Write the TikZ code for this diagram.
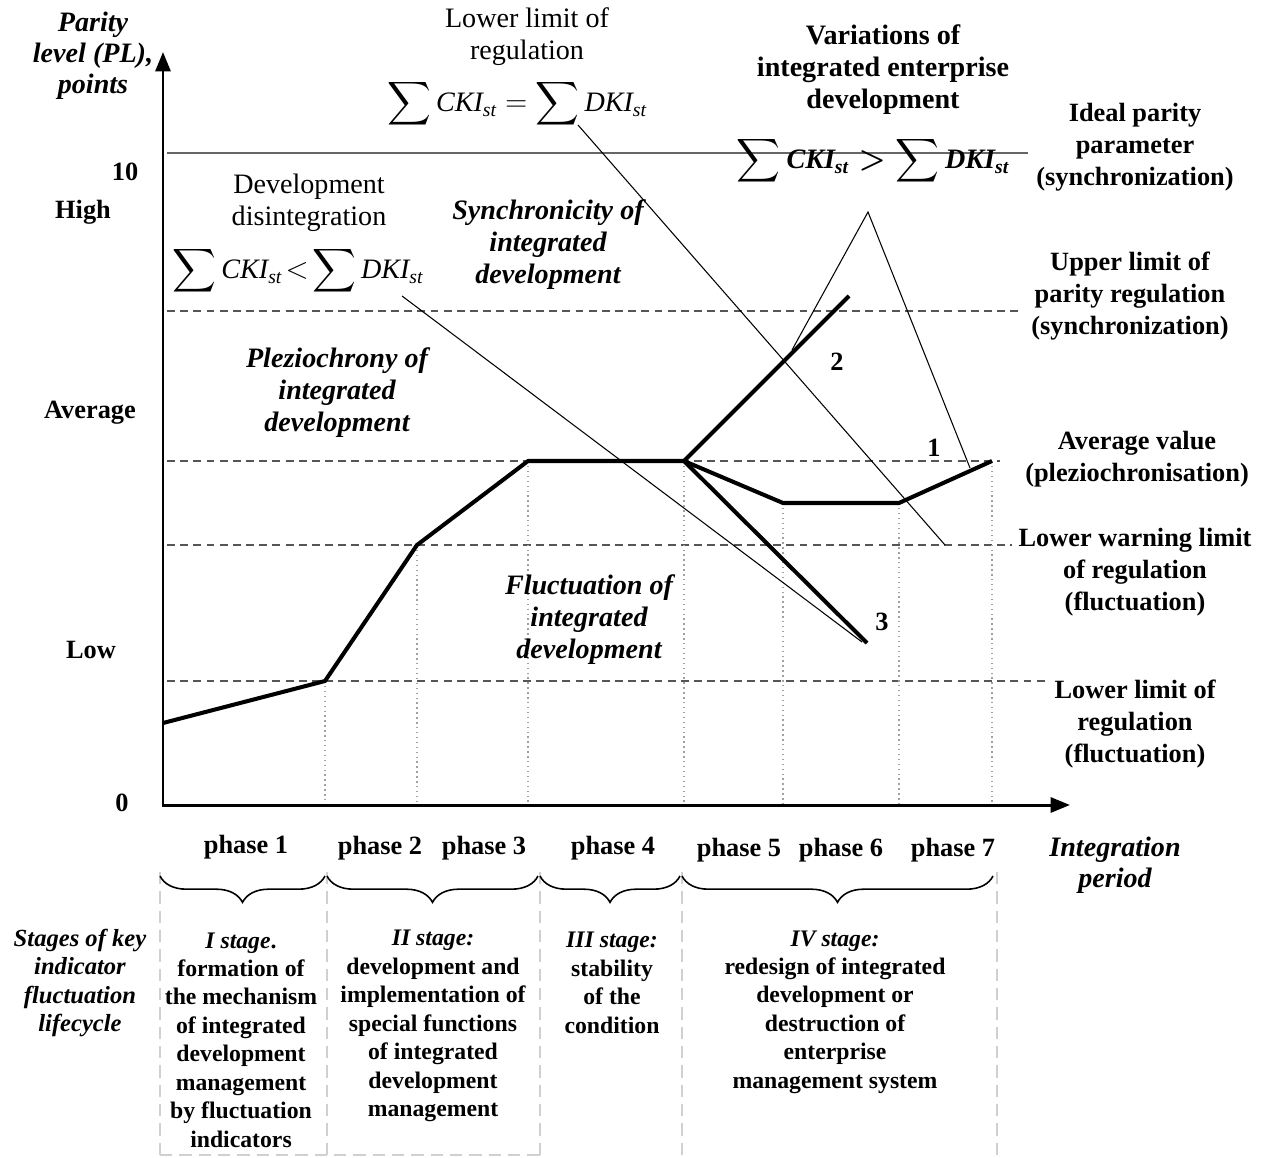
\documentclass[tikz,border=0pt]{standalone}
\usepackage{fontspec}
\setmainfont{Liberation Serif}
\usepackage{amsmath}
\usepackage{tikz}
\usetikzlibrary{arrows.meta,decorations.pathreplacing}

\definecolor{gridgray}{HTML}{555555}
\definecolor{dotgray}{HTML}{A0A0A0}
\definecolor{sepgray}{HTML}{D0D0D0}

\newcommand{\kisum}[1]{\sum\textit{#1}_{\textit{st}}}

\begin{document}
\begin{tikzpicture}[yscale=-1,x=0.02cm,y=0.02cm,
    lbl/.style={font=\fontsize{15}{18.1}\selectfont\bfseries,align=center},
    note/.style={font=\fontsize{16}{18.2}\selectfont,align=center,inner sep=0pt},
    zone/.style={font=\fontsize{16}{18.2}\selectfont\bfseries\itshape,align=center},
    stagetext/.style={font=\fontsize{13.5}{16.2}\selectfont\bfseries,align=center},
    level/.style={gridgray,line width=1.1pt,dash pattern=on 4.5pt off 3pt},
    phaseline/.style={dotgray,line width=0.8pt,dotted},
    sepline/.style={sepgray,line width=1.2pt,dash pattern=on 7pt off 4pt},
    curve/.style={line width=2.3pt,line join=round},
    guide/.style={line width=0.6pt},
    stagebrace/.style={decorate,decoration={brace,mirror,amplitude=15pt},line width=0.9pt}]

        \useasboundingbox (0,0) rectangle (1263,1158);

        % level lines
        \draw[gray!80!black,line width=0.9pt] (167,153) -- (1028,153);
        \draw[level] (167,311) -- (1022,311);
        \draw[level] (167,461) -- (1000,461);
        \draw[level] (167,545) -- (1012,545);
        \draw[level] (167,681) -- (1046,681);

        % curve points
        \coordinate (p0) at (163,723);
        \coordinate (p1) at (325,681);
        \coordinate (p2) at (417,545);
        \coordinate (p3) at (528,461);
        \coordinate (p4) at (684,461);
        \coordinate (p5) at (783,503);
        \coordinate (p6) at (899,503);
        \coordinate (p7) at (992,461);
        \coordinate (up) at (849,296);
        \coordinate (down) at (867,643);

        % phase borders
        \foreach \p in {p1,p2,p3,p4,p5,p6,p7} {
          \draw[phaseline] (\p) -- (\p |- 0,805);
        }

        % axes
        \draw[line width=1.7pt,-{Triangle[length=11pt,width=8.5pt]}] (163,806) -- (163,52);
        \draw[line width=1.7pt,-{Triangle[length=11pt,width=8.5pt]}] (162,805) -- (1070,805);

        % integration path and variations
        \draw[curve] (p0) -- (p1) -- (p2) -- (p3) -- (p4) -- (p5) -- (p6) -- (p7);
        \draw[curve] (p4) -- (up);
        \draw[curve] (p4) -- (down);

        % formula texts
        \node[note] (disint) at (309,203) {Development\\disintegration};
        \node[note] (fdisint) at (298,271) {$\displaystyle\kisum{CKI}\!<\!\kisum{DKI}$};
        \node[note] (lowreg) at (527,37) {Lower limit of\\regulation};
        \node[note] (flowreg) at (517,104) {$\displaystyle\kisum{CKI}=\kisum{DKI}$};
        \node[lbl,font=\fontsize{16}{18.2}\selectfont\bfseries,inner sep=0pt] (variat) at (883,70) {Variations of\\integrated enterprise\\development};
        \node[note,font=\fontsize{16}{18.2}\selectfont\bfseries\boldmath] (fvariat) at (873,161) {$\displaystyle\kisum{CKI}>\kisum{DKI}$};

        % guide lines
        \coordinate (g1) at (402,296);
        \coordinate (g1e) at (862,642);
        \coordinate (g2) at (578,125);
        \coordinate (g2e) at (945,545);
        \coordinate (apex) at (868,212);
        \coordinate (t1) at (792,350);
        \coordinate (t2) at (970,468);
        \draw[guide] (g1) -- (g1e);
        \draw[guide] (g2) -- (g2e);
        \draw[guide] (t1) -- (apex) -- (t2);

        % zones
        \node[zone] (sync) at (548,245) {Synchronicity of\\integrated\\development};
        \node[zone] (plez) at (337,393) {Pleziochrony of\\integrated\\development};
        \node[zone] (fluct) at (589,620) {Fluctuation of\\integrated\\development};

        % variants
        \node[lbl] (v1) at (934,448) {1};
        \node[lbl] (v2) at (837,362) {2};
        \node[lbl] (v3) at (882,622) {3};

        % y axis
        \node[lbl,font=\fontsize{16}{17.6}\selectfont\bfseries\itshape] (yname) at (93,56) {Parity\\level (PL),\\points};
        \node[lbl] (y10) at (125,172) {10};
        \node[lbl] (yhigh) at (83,212) {High};
        \node[lbl] (yavg) at (90,413) {Average};
        \node[lbl] (ylow) at (91,650) {Low};
        \node[lbl] (y0) at (122,803) {0};

        % right labels
        \node[lbl] (ideal) at (1135,147) {Ideal parity\\parameter\\(synchronization)};
        \node[lbl] (upper) at (1130,296) {Upper limit of\\parity regulation\\(synchronization)};
        \node[lbl] (avgval) at (1137,459) {Average value\\(pleziochronisation)};
        \node[lbl] (warn) at (1135,572) {Lower warning limit\\of regulation\\(fluctuation)};
        \node[lbl] (lowlim) at (1135,724) {Lower limit of\\regulation\\(fluctuation)};

        % x axis
        \node[lbl,font=\fontsize{16}{17.6}\selectfont\bfseries\itshape] (xname) at (1115,865) {Integration\\period};
        \node[lbl] (ph1) at (246,847) {phase 1};
        \node[lbl] (ph2) at (380,848) {phase 2};
        \node[lbl] (ph3) at (484,848) {phase 3};
        \node[lbl] (ph4) at (613,848) {phase 4};
        \node[lbl] (ph5) at (739,850) {phase 5};
        \node[lbl] (ph6) at (841,850) {phase 6};
        \node[lbl] (ph7) at (953,850) {phase 7};

        % stages
        \foreach \x in {160,327,540,682,997} {
          \draw[sepline] (\x,872) -- (\x,1157);
        }
        \draw[sepline] (160,1155) -- (540,1155);
        \draw[stagebrace] (160,876) -- (325,876);
        \draw[stagebrace] (327,876) -- (538,876);
        \draw[stagebrace] (540,876) -- (680,876);
        \draw[stagebrace] (682,876) -- (993,876);

        \node[stagetext,font=\fontsize{14}{16.2}\selectfont\bfseries\itshape] (stages) at (80,983) {Stages of key\\indicator\\fluctuation\\lifecycle};
        \node[stagetext] (st1) at (241,1040) {\textit{I stage}.\\formation of\\the mechanism\\of integrated\\development\\management\\by fluctuation\\indicators};
        \node[stagetext] (st2) at (433,1026) {\textit{II stage:}\\development and\\implementation of\\special functions\\of integrated\\development\\management};
        \node[stagetext] (st3) at (612,983) {\textit{III stage:}\\stability\\of the\\condition};
        \node[stagetext] (st4) at (835,1012) {\textit{IV stage:}\\redesign of integrated\\development or\\destruction of\\enterprise\\management system};
    \end{tikzpicture}
\end{document}
